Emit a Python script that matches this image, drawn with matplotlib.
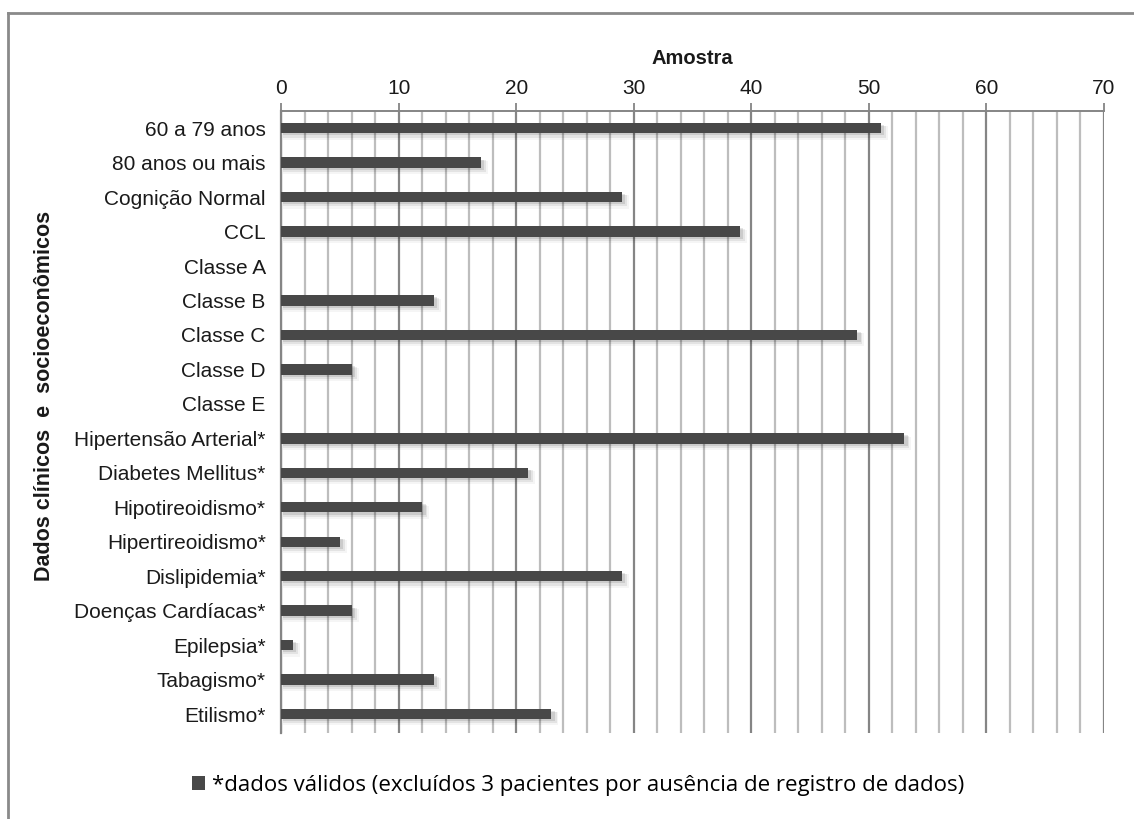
import numpy as np
import matplotlib
matplotlib.use('Agg')
import matplotlib.pyplot as plt
from matplotlib.ticker import MultipleLocator

plt.rcParams['font.family'] = ['Liberation Sans', 'DejaVu Sans']

categories = [
    '60 a 79 anos', '80 anos ou mais', 'Cognição Normal', 'CCL',
    'Classe A', 'Classe B', 'Classe C', 'Classe D', 'Classe E',
    'Hipertensão Arterial*', 'Diabetes Mellitus*', 'Hipotireoidismo*',
    'Hipertireoidismo*', 'Dislipidemia*', 'Doenças Cardíacas*',
    'Epilepsia*', 'Tabagismo*', 'Etilismo*',
]
amostra = [51, 17, 29, 39, 0, 13, 49, 6, 0, 53, 21, 12, 5, 29, 6, 1, 13, 23]
legend_label = '*dados válidos (excluídos 3 pacientes por ausência de registro de dados)'

BAR_COLOR = '#484848'
MINOR_GRID = '#bdbdbd'
MAJOR_GRID = '#858585'
TEXT = '#1a1a1a'

fig = plt.figure(figsize=(11.34, 8.19), dpi=100)
ax = fig.add_axes([0.2478, 0.105, 0.7257, 0.7595])

y = np.arange(len(categories))

# soft drop shadow under each bar
for k, a in enumerate([0.10, 0.07, 0.04]):
    off = 0.06 + 0.04 * k
    ax.barh(y + off, [v + 0.15 * (k + 1) if v > 0 else 0 for v in amostra],
            height=0.30 + 0.04 * k, left=0.15, color='black', alpha=a,
            linewidth=0, zorder=2)

bars = ax.barh(y, amostra, height=0.30, color=BAR_COLOR, linewidth=0,
               zorder=3, label=legend_label)

ax.set_xlim(0, 70)
ax.set_ylim(len(categories) - 0.45, -0.5)
ax.set_yticks(y)
ax.set_yticklabels(categories, fontsize=15, color=TEXT)
ax.tick_params(axis='y', length=0, pad=11)

ax.xaxis.tick_top()
ax.xaxis.set_label_position('top')
ax.xaxis.set_major_locator(MultipleLocator(10))
ax.xaxis.set_minor_locator(MultipleLocator(2))
ax.tick_params(axis='x', which='major', length=6, width=1.3, color=MAJOR_GRID,
               labelsize=15, pad=3, labelcolor=TEXT)
ax.tick_params(axis='x', which='minor', length=0)
ax.set_xlabel('Amostra', fontsize=14.5, fontweight='bold', labelpad=11, color=TEXT)

ax.grid(True, axis='x', which='minor', color=MINOR_GRID, linewidth=1.6, zorder=0)
ax.grid(True, axis='x', which='major', color=MAJOR_GRID, linewidth=1.6, zorder=1)

for side in ['right', 'bottom']:
    ax.spines[side].set_visible(False)
ax.spines['top'].set_color(MAJOR_GRID)
ax.spines['top'].set_linewidth(1.4)
ax.spines['left'].set_color(MAJOR_GRID)
ax.spines['left'].set_linewidth(1.6)

fig.text(45 / 1134, 1 - 396 / 819, 'Dados clínicos  e  socioeconômicos',
         rotation=90, ha='center', va='center', fontsize=15.5,
         fontweight='bold', color=TEXT)

fig.legend(handles=[bars], labels=[legend_label], loc='center',
           bbox_to_anchor=(578 / 1134, 1 - 785 / 819), frameon=False,
           handlelength=0.6, handleheight=0.6, handletextpad=0.3,
           prop={'family': 'Open Sans', 'size': 16})

# outer chart frame (top and left edges)
fig.add_artist(plt.Line2D([8 / 1134, 1], [1 - 13 / 819] * 2, color='#8a8a8a',
                          linewidth=2, transform=fig.transFigure))
fig.add_artist(plt.Line2D([8 / 1134] * 2, [0, 1 - 13 / 819], color='#8a8a8a',
                          linewidth=2, transform=fig.transFigure))

fig.savefig('out.png', dpi=100, facecolor='white')
